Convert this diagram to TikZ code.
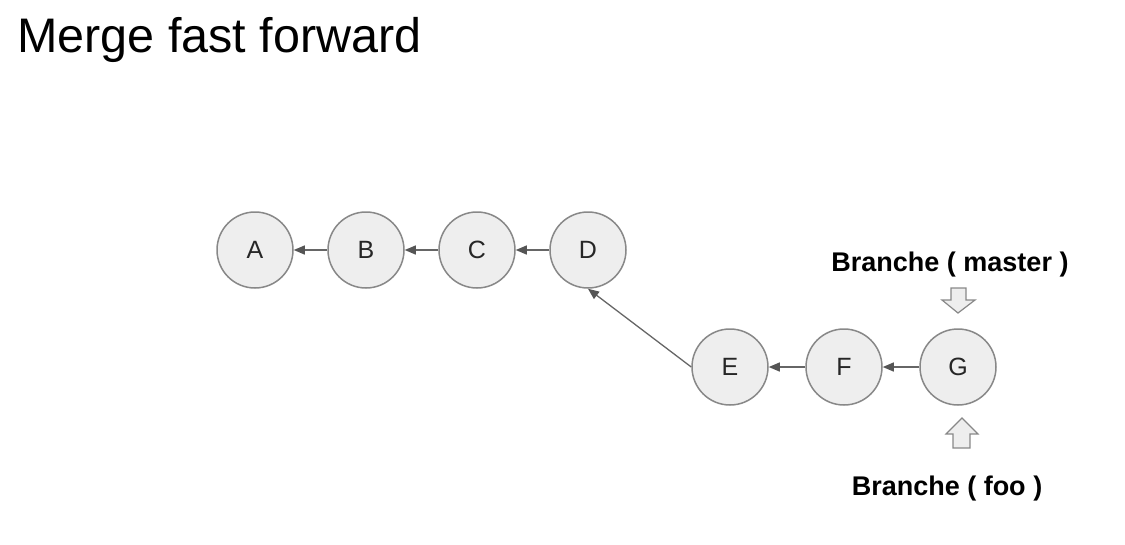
\documentclass[tikz,border=0pt]{standalone}
\usepackage{fontspec}
\setmainfont{Liberation Sans}
\usetikzlibrary{arrows.meta}
\definecolor{cfill}{HTML}{EEEEEE}
\definecolor{cline}{HTML}{888888}
\definecolor{aline}{HTML}{666666}
\definecolor{ahead}{HTML}{555555}
\begin{document}
\begin{tikzpicture}[x=1pt,y=-1pt,
  commit/.style={circle,draw=cline,fill=cfill,line width=1.5pt,minimum size=76pt,inner sep=0pt,font=\fontsize{25}{30}\selectfont,text=black!85},
  link/.style={draw=aline,line width=1.3pt,-{Stealth[length=11pt,width=9pt,inset=0pt,color=ahead]}},
  blockarrow/.style={draw=cline,fill=cfill,line width=1.2pt,line join=miter},
  lbl/.style={font=\bfseries\fontsize{27}{32}\selectfont,anchor=base,inner sep=0pt}]
\useasboundingbox (0,0) rectangle (1125,544);
\node[anchor=base west,inner sep=0pt,font=\fontsize{48.5}{58}\selectfont] (title) at (17,52) {Merge fast forward};
\node[commit] (A) at (255,250) {A};
\node[commit] (B) at (366,250) {B};
\node[commit] (C) at (477,250) {C};
\node[commit] (D) at (588,250) {D};
\node[commit] (E) at (730,367) {E};
\node[commit] (F) at (844,367) {F};
\node[commit] (G) at (958,367) {G};
\draw[link] (B) -- (A);
\draw[link] (C) -- (B);
\draw[link] (D) -- (C);
\draw[link] (E.west) -- (D.south);
\draw[link] (F) -- (E);
\draw[link] (G) -- (F);
\node[lbl] (master) at (950,271) {Branche ( master )};
\node[lbl] (foo) at (947,495) {Branche ( foo )};
\coordinate (dtip) at (958,313);
\coordinate (utip) at (962,418);
\draw[blockarrow] (951,288) -- (966,288) -- (966,300) -- (975,300) -- (dtip) -- (942,300) -- (951,300) -- cycle;
\draw[blockarrow] (953,448) -- (970,448) -- (970,434) -- (978,434) -- (utip) -- (946,434) -- (953,434) -- cycle;
\end{tikzpicture}
\end{document}
